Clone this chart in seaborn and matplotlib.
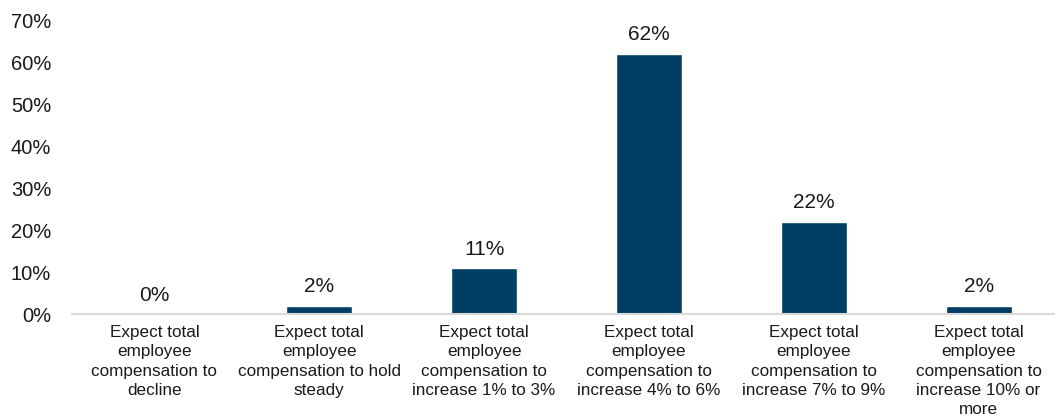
import matplotlib
matplotlib.use("Agg")
import matplotlib.pyplot as plt
import seaborn as sns
import pandas as pd
from matplotlib.ticker import PercentFormatter

categories = [
    "Expect total\nemployee\ncompensation to\ndecline",
    "Expect total\nemployee\ncompensation to hold\nsteady",
    "Expect total\nemployee\ncompensation to\nincrease 1% to 3%",
    "Expect total\nemployee\ncompensation to\nincrease 4% to 6%",
    "Expect total\nemployee\ncompensation to\nincrease 7% to 9%",
    "Expect total\nemployee\ncompensation to\nincrease 10% or\nmore",
]
shares = [0, 2, 11, 62, 22, 2]
y_ticks = [0, 10, 20, 30, 40, 50, 60, 70]

sns.set_style("white")
plt.rcParams["font.family"] = ["Liberation Sans", "DejaVu Sans"]

df = pd.DataFrame({"category": categories, "share": shares})

fig = plt.figure(figsize=(10.55, 4.19), dpi=100)
ax = fig.add_axes([72 / 1055, 105 / 419, 989 / 1055, 294 / 419])

sns.barplot(data=df, x="category", y="share", color="#003f63",
            width=0.4, saturation=1, ax=ax)

for i, v in enumerate(shares):
    ax.text(i, v + 2.2, f"{v}%", ha="center", va="bottom",
            fontsize=15, color="#1a1a1a")

ax.set_ylim(0, 70)
ax.set_yticks(y_ticks)
ax.yaxis.set_major_formatter(PercentFormatter(decimals=0))
ax.set_xlabel("")
ax.set_ylabel("")
ax.set_xticks(range(len(categories)))
ax.set_xticklabels(categories, linespacing=1.36)
ax.tick_params(axis="y", labelsize=14.5, labelcolor="#1a1a1a", length=0, pad=15)
ax.tick_params(axis="x", labelsize=12.3, labelcolor="#1a1a1a", length=0, pad=8)

for s in ["top", "right", "left"]:
    ax.spines[s].set_visible(False)
ax.spines["bottom"].set_color("#d9d9d9")
ax.spines["bottom"].set_linewidth(1.5)

fig.savefig("out.png", dpi=100)
